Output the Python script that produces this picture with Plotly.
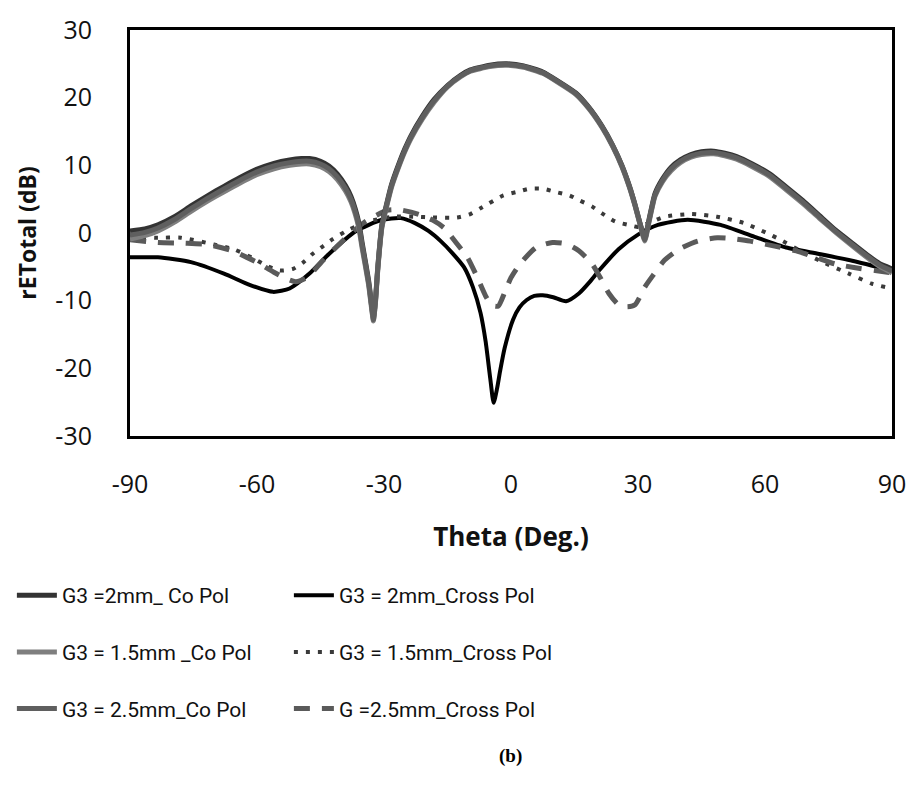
import plotly.graph_objects as go

# ---------------- data ----------------
theta_co = [-90, -86.5, -83.4, -79.5, -75.6, -71.7, -67.8, -64, -60.1, -56, -52.3, -49.5, -47.6, -45,
            -43, -41, -39.1, -37.8, -36.8, -35.9, -35.2, -34.4, -33.6, -33, -32.5, -32, -31.5, -30.5,
            -29.3, -28.2, -26.5, -25.1, -23.6, -21, -18.2, -15, -11.9, -9.6, -5, -1, 3, 7.5, 11, 15.3, 18.5,
            21.5, 24, 26.2, 28, 29.3, 30.5, 31.6, 32.6, 34, 35.8, 37.8, 40, 42.5, 45, 47.9, 50.5, 53.3,
            57, 61.2, 65, 68.9, 72.8, 76.7, 80.6, 84.5, 87, 90]

co_2mm = [0.3, 0.6, 1.2, 2.4, 4.0, 5.5, 6.9, 8.2, 9.4, 10.3, 10.8, 11.0, 11.0, 10.6,
          9.9, 8.7, 7.0, 5.4, 3.6, 1.4, -1.3, -4.2, -7.2, -10.2, -12.5, -9.8, -5.3, 1.2,
          4.5, 7.2, 10.2, 12.4, 14.4, 17.2, 19.7, 21.8, 23.3, 24.1, 24.8, 25.0, 24.7, 23.8, 22.5, 20.7, 18.5,
          15.8, 13.0, 10.0, 6.9, 4.2, 1.4, -0.8, 2.0, 5.8, 8.0, 9.7, 10.8, 11.6, 12.0, 12.1, 11.8, 11.3,
          10.2, 8.7, 6.8, 4.8, 2.6, 0.4, -1.5, -3.4, -4.5, -5.3]

co_15mm = [-0.9, -0.4, 0.3, 1.6, 3.2, 4.7, 6.1, 7.4, 8.6, 9.5, 10.0, 10.2, 10.2, 9.8,
           9.1, 7.9, 6.2, 4.6, 2.8, 0.6, -2.1, -4.9, -7.8, -10.8, -13.0, -10.2, -5.7, 0.8,
           4.1, 6.8, 9.8, 12.0, 14.0, 16.8, 19.3, 21.6, 23.1, 23.9, 24.6, 24.8, 24.5, 23.6, 22.3, 20.5, 18.3,
           15.6, 12.8, 9.8, 6.7, 4.0, 1.2, -1.2, 1.6, 5.4, 7.6, 9.2, 10.4, 11.2, 11.6, 11.7, 11.4, 10.9,
           9.8, 8.3, 6.4, 4.4, 2.2, 0.1, -1.9, -3.8, -4.9, -5.9]

co_25mm = [-0.3, 0.1, 0.75, 2.0, 3.6, 5.1, 6.5, 7.8, 9.0, 9.9, 10.4, 10.6, 10.6, 10.2,
           9.5, 8.3, 6.6, 5.0, 3.2, 1.0, -1.7, -4.5, -7.5, -10.5, -12.8, -10.0, -5.5, 1.0,
           4.3, 7.0, 10.0, 12.2, 14.2, 17.0, 19.5, 21.7, 23.2, 24.0, 24.7, 24.9, 24.6, 23.7, 22.4, 20.6, 18.4,
           15.7, 12.9, 9.9, 6.8, 4.1, 1.3, -1.0, 1.8, 5.6, 7.8, 9.45, 10.6, 11.4, 11.8, 11.9, 11.6, 11.1,
           10.0, 8.5, 6.6, 4.6, 2.4, 0.25, -1.7, -3.6, -4.7, -5.6]

theta_x2 = [-90, -83.4, -75.6, -67.8, -61.6, -56.2, -52.3, -47.6, -43, -36.7, -30.5, -26, -22.8,
            -19.5, -16.6, -13.8, -11.1, -9, -7.2, -6, -4.9, -4.1, -3.3, -2.6, -1.5, 0.5, 2, 3.7, 5.5,
            7.5, 10, 13, 16.1, 18.5, 20.8, 25.4, 30.1, 34.7, 41.7, 49.5, 57.3, 65, 72.8, 80.6, 90]
cross_2mm = [-3.6, -3.6, -4.3, -6.0, -7.7, -8.7, -8.2, -6.0, -3.1, 0.25, 1.95, 2.2, 1.5,
             0.3, -1.2, -3.0, -5.05, -8.0, -11.8, -16.0, -21.5, -25.1, -23.0, -20.5, -17.0, -12.8, -11.0, -9.9, -9.3,
             -9.2, -9.5, -10.1, -8.9, -7.3, -5.55, -2.4, -0.2, 1.2, 1.95, 1.2, -0.5, -2.15, -3.1, -4.1, -5.55]

theta_x15 = [-90, -84, -78, -70.2, -65.5, -61, -57.8, -54.6, -51.5, -49, -46.9, -44.5, -42.2, -38.3,
             -33.6, -28, -22, -18.9, -12.7, -9.6, -7.2, -1.8, 1.3, 4.4, 7.5, 10.6, 13.8, 16.1, 19.2,
             21.5, 24.6, 27.7, 30, 33, 36.3, 42.5, 48.7, 54.9, 60.4, 63.5, 68, 73.6, 79.8, 85.3, 90]
cross_15mm = [-0.5, -0.7, -0.7, -1.7, -2.4, -3.7, -4.8, -5.55, -5.3, -4.3, -3.1, -2.0, -0.95, 0.5,
              1.7, 2.4, 2.4, 2.3, 2.3, 2.8, 3.65, 5.55, 6.05, 6.55, 6.55, 6.05, 5.55, 4.85, 3.9,
              2.9, 1.7, 1.2, 0.9, 1.6, 2.4, 2.8, 2.4, 1.5, 0.0, -0.95, -2.5, -4.3, -6.0, -7.5, -8.2]

theta_x25 = [-90, -83.4, -77, -71.7, -66, -62.4, -60.1, -56, -53.1, -50.8, -48, -44.5, -40, -34.4,
             -29, -26, -22, -18.5, -15.8, -13, -10.3, -8, -6, -4.5, -3, -1.5, 0, 2.1, 5.9, 9.8, 13,
             16.1, 19.2, 21, 23.1, 25.4, 27.5, 29.3, 31.6, 33.5, 36.3, 40, 44.1, 48.7, 52, 56.5, 62,
             67.4, 72, 76.7, 81, 86, 90]
cross_25mm = [-1.0, -1.4, -1.5, -1.7, -2.6, -3.6, -4.3, -5.8, -6.75, -7.2, -6.5, -4.1, -1.3, 1.7,
              3.4, 3.4, 2.8, 1.9, 0.75, -1.4, -3.6, -6.5, -9.3, -10.7, -10.8, -8.8, -6.6, -4.6, -2.15, -1.4, -1.6,
              -2.65, -4.6, -6.5, -8.9, -10.6, -10.9, -10.6, -8.0, -6.3, -4.0, -2.3, -1.2, -0.7, -0.8, -1.2, -1.9,
              -2.65, -3.6, -4.6, -5.1, -5.55, -5.9]

x_ticks = [-90, -60, -30, 0, 30, 60, 90]
x_tick_text = ["-90", "-60", "-30", "0", "30", "60", "90"]
y_ticks = [-30, -20, -10, 0, 10, 20, 30]
y_tick_text = ["-30", "-20", "-10", "0", "10", "20", "30"]

names = ["G3 =2mm_ Co Pol", "G3 = 2mm_Cross Pol",
         "G3 = 1.5mm _Co Pol", "G3 = 1.5mm_Cross Pol",
         "G3 = 2.5mm_Co Pol", "G =2.5mm_Cross Pol"]

# ---------------- figure ----------------
fig = go.Figure()

legend_font = dict(family="Roboto, Open Sans, sans-serif", size=21, color="#111111")

# drawing order: cross pols below, co pols on top
fig.add_trace(go.Scatter(x=theta_x2, y=cross_2mm, name=names[1], mode="lines",
                         line=dict(color="#000000", width=4, shape="spline", smoothing=0.6),
                         legend="legend"))
fig.add_trace(go.Scatter(x=theta_x15, y=cross_15mm, name=names[3], mode="lines",
                         line=dict(color="#3a3a3a", width=4, dash="4px,8px", shape="spline", smoothing=0.6),
                         legend="legend2"))
fig.add_trace(go.Scatter(x=theta_x25, y=cross_25mm, name=names[5], mode="lines",
                         line=dict(color="#5a5a5a", width=5, dash="16px,12px", shape="spline", smoothing=0.6),
                         legend="legend3"))
fig.add_trace(go.Scatter(x=theta_co, y=co_2mm, name=names[0], mode="lines",
                         line=dict(color="#333333", width=5, shape="spline", smoothing=0.5),
                         legend="legend", legendrank=1))
fig.add_trace(go.Scatter(x=theta_co, y=co_15mm, name=names[2], mode="lines",
                         line=dict(color="#7f7f7f", width=5, shape="spline", smoothing=0.5),
                         legend="legend2", legendrank=1))
fig.add_trace(go.Scatter(x=theta_co, y=co_25mm, name=names[4], mode="lines",
                         line=dict(color="#5f5f5f", width=5, shape="spline", smoothing=0.5),
                         legend="legend3", legendrank=1))

row_y = [-0.393, -0.533, -0.672]
legs = {}
for i, key in enumerate(["legend", "legend2", "legend3"]):
    legs[key] = dict(orientation="h", x=-0.155, xanchor="left", y=row_y[i], yanchor="middle",
                     entrywidth=222, entrywidthmode="pixels", font=legend_font,
                     bgcolor="rgba(0,0,0,0)", traceorder="normal", itemwidth=40)

fig.update_layout(
    width=918, height=804,
    margin=dict(l=125, r=21, t=22, b=368),
    paper_bgcolor="white", plot_bgcolor="white",
    showlegend=True,
    **legs,
    xaxis=dict(range=[-90, 90], tickvals=x_ticks, ticktext=x_tick_text, showgrid=False, zeroline=False,
               showline=True, linecolor="black", linewidth=3, mirror=True, ticks="",
               ticklabelstandoff=24,
               tickfont=dict(family="Open Sans, sans-serif", size=25, color="#111111"),
               title=dict(text="<b>Theta (Deg.)</b>", standoff=29,
                          font=dict(family="Open Sans, sans-serif", size=26, color="#111111"))),
    yaxis=dict(range=[-30, 30], tickvals=y_ticks, ticktext=y_tick_text, showgrid=False, zeroline=False,
               showline=True, linecolor="black", linewidth=3, mirror=True, ticks="",
               ticklabelstandoff=30,
               tickfont=dict(family="Open Sans, sans-serif", size=25, color="#111111"),
               title=dict(text="<b>rETotal (dB)</b>", standoff=13,
                          font=dict(family="Open Sans, sans-serif", size=23, color="#111111"))),
    annotations=[dict(text="<b>(b)</b>", x=0.4987, y=-0.819, xref="paper", yref="paper",
                      showarrow=False, font=dict(family="Liberation Serif, serif", size=19, color="black"))],
)

fig.write_html("out.html")
